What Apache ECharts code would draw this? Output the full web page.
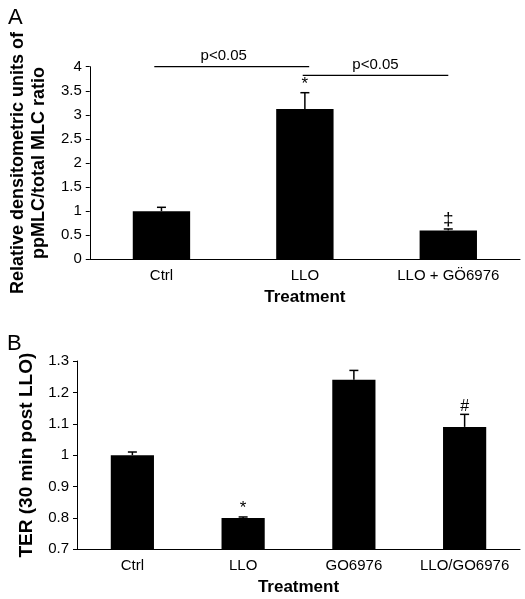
<!DOCTYPE html>
<html><head><meta charset="utf-8">
<script src="https://cdn.jsdelivr.net/npm/echarts@6/dist/echarts.min.js"></script>
<style>html,body{margin:0;padding:0;background:#fff}#c{width:525px;height:599px}</style>
</head><body><div id="c"></div>
<script>
// Panel A data
const catsA = ['Ctrl', 'LLO', 'LLO + GÖ6976'];
const meansA = [1.0, 3.12, 0.6];
const errA = [0.08, 0.34, 0.03];
const marksA = ['', '*', '‡'];
const yTicksA = { min: 0, max: 4, interval: 0.5 };
// significance brackets (panel A)
const sigFrom = ['Ctrl', 'LLO'];
const sigTo = ['LLO', 'LLO + GÖ6976'];
const sigLevel = [4.0, 3.82];
const sigText = ['p<0.05', 'p<0.05'];

// Panel B data
const catsB = ['Ctrl', 'LLO', 'GO6976', 'LLO/GO6976'];
const meansB = [1.0, 0.8, 1.24, 1.09];
const errB = [0.01, 0.003, 0.03, 0.04];
const marksB = ['', '*', '', '#'];
const yTicksB = { min: 0.7, max: 1.3, interval: 0.1 };

const FONT = "'Liberation Sans', Arial, Helvetica, sans-serif";
const black = '#000';

function xAxisCfg(cats, gridIndex) {
  return {
    type: 'category', gridIndex, data: cats,
    name: 'Treatment', nameLocation: 'middle', nameGap: 30,
    nameTextStyle: { fontFamily: FONT, fontSize: 17, fontWeight: 'bold', color: black },
    axisLine: { lineStyle: { color: black, width: 1 } },
    axisTick: { length: 5, interval: 0, lineStyle: { color: black } },
    axisLabel: { fontFamily: FONT, fontSize: 15, color: black, margin: 9, interval: 0 },
    splitLine: { show: false }
  };
}
function yAxisCfg(t, name, gridIndex, gap, fs) {
  return {
    type: 'value', gridIndex, min: t.min, max: t.max, interval: t.interval,
    name, nameLocation: 'middle', nameGap: gap, nameRotate: 90,
    nameTextStyle: { fontFamily: FONT, fontSize: fs, fontWeight: 'bold', color: black, lineHeight: 21 },
    axisLine: { show: true, lineStyle: { color: black, width: 1 } },
    axisTick: { show: true, length: 4, lineStyle: { color: black } },
    axisLabel: { fontFamily: FONT, fontSize: 15, color: black, margin: 8 },
    splitLine: { show: false }
  };
}

function errSeries(means, errs, marks, xi, yi, markGap, markSize) {
  return {
    type: 'custom', xAxisIndex: xi, yAxisIndex: yi, clip: false, z: 5,
    data: means.map((m, i) => [i, m, m + errs[i], marks[i]]),
    renderItem: function (params, api) {
      const base = api.coord([api.value(0), api.value(1)]);
      const top = api.coord([api.value(0), api.value(2)]);
      const hw = 4.5;
      const children = [
        { type: 'line', shape: { x1: base[0], y1: base[1], x2: top[0], y2: top[1] }, style: { stroke: black, lineWidth: 1.5 } },
        { type: 'line', shape: { x1: top[0] - hw, y1: top[1], x2: top[0] + hw, y2: top[1] }, style: { stroke: black, lineWidth: 1.5 } }
      ];
      const mk = marks[params.dataIndex];
      if (mk) {
        children.push({ type: 'text', style: { text: mk, x: top[0], y: top[1] - markGap, align: 'center', verticalAlign: 'bottom', fontFamily: FONT, fontSize: markSize(mk), fill: black } });
      }
      return { type: 'group', children };
    }
  };
}
const markSize = mk => (mk === '‡' ? 19 : mk === '*' ? 17 : 16);

const chart = echarts.init(document.getElementById('c'), null, { renderer: 'canvas' });
chart.setOption({
  backgroundColor: '#fff',
  animation: false,
  title: [
    { text: 'A', left: 3, top: 2, textStyle: { fontFamily: FONT, fontSize: 22, fontWeight: 'normal', color: black } },
    { text: 'B', left: 2, top: 328, textStyle: { fontFamily: FONT, fontSize: 22, fontWeight: 'normal', color: black } }
  ],
  grid: [
    { left: 77, right: 5, top: 66.7, height: 192.6 },
    { left: 77, right: 5, top: 361, height: 188.3 }
  ],
  xAxis: [xAxisCfg(catsA, 0), xAxisCfg(catsB, 1)],
  yAxis: [
    yAxisCfg(yTicksA, 'Relative densitometric units of\nppMLC/total MLC ratio', 0, 38, 18),
    yAxisCfg(yTicksB, 'TER (30 min post LLO)', 1, 38, 19)
  ],
  series: [
    { type: 'bar', xAxisIndex: 0, yAxisIndex: 0, data: meansA, barWidth: '40%', itemStyle: { color: black } },
    errSeries(meansA, errA, marksA, 0, 0, 0, markSize),
    { type: 'bar', xAxisIndex: 1, yAxisIndex: 1, data: meansB, barWidth: '39%', itemStyle: { color: black } },
    errSeries(meansB, errB, marksB, 1, 1, 0, markSize),
    {
      type: 'custom', xAxisIndex: 0, yAxisIndex: 0, clip: false, z: 5,
      data: sigLevel.map((lv, i) => [catsA.indexOf(sigFrom[i]), catsA.indexOf(sigTo[i]), lv]),
      renderItem: function (params, api) {
        const band = api.size([1, 0])[0];
        const a = api.coord([api.value(0), api.value(2)]);
        const b = api.coord([api.value(1), api.value(2)]);
        const i = params.dataIndex;
        const x1 = a[0] + (i === 0 ? -0.05 : -0.015) * band;
        const x2 = b[0] + (i === 0 ? 0.03 : 0) * band;
        const tx = (x1 + x2) / 2 + (i === 0 ? -8 : 0);
        return { type: 'group', children: [
          { type: 'line', shape: { x1, y1: a[1], x2, y2: a[1] }, style: { stroke: black, lineWidth: 1.2 } },
          { type: 'text', style: { text: sigText[i], x: tx, y: a[1] - 3, align: 'center', verticalAlign: 'bottom', fontFamily: FONT, fontSize: 15, fill: black } }
        ] };
      }
    }
  ]
});
</script></body></html>
